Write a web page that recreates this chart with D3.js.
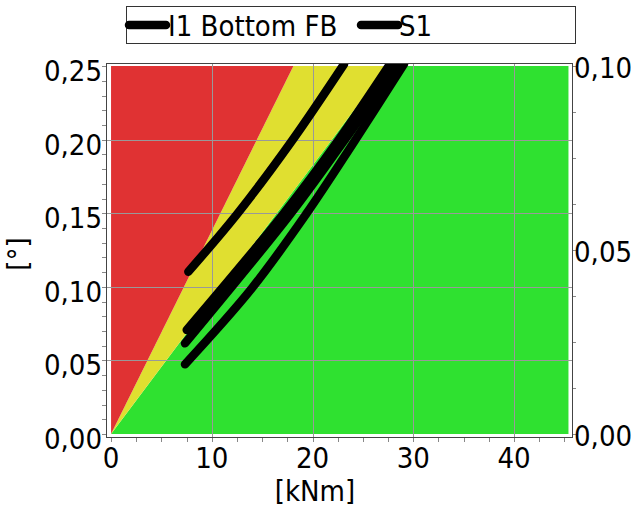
<!DOCTYPE html>
<html>
<head>
<meta charset="utf-8">
<script src="https://cdn.jsdelivr.net/npm/d3@7"></script>
<style>
  html, body { margin: 0; padding: 0; background: #fff; }
  svg { display: block; }
  text { font-family: 'DejaVu Sans Condensed', 'DejaVu Sans', sans-serif; font-stretch: condensed; fill: #000; }
</style>
</head>
<body>
<svg id="chart" width="635" height="513"></svg>
<script>
// Moment [kNm] vs rotation [°]
const xTicks = [0, 10, 20, 30, 40];
const yTicks = [0, 0.05, 0.10, 0.15, 0.20, 0.25];
const y2Ticks = [0, 0.05, 0.10];

// Classification zones (polygons in data units)
const zoneRed = [[0, 0], [0, 0.25], [18.1, 0.25]];
const zoneYellow = [[0, 0], [18.1, 0.25], [27.4, 0.25]];
const zoneGreen = [[0, 0], [27.4, 0.25], [45.4, 0.25], [45.4, 0]];

// Series branches: [moment, rotation]
const i1BottomFbUp = [[7.67, 0.1103], [12.49, 0.1493], [17.96, 0.1993], [23.13, 0.2514]];
const i1BottomFbDown = [[7.51, 0.0707], [17.07, 0.1493], [22.53, 0.1993], [27.69, 0.2514]];
const s1Up = [[7.34, 0.0616], [17.77, 0.1493], [23.13, 0.1993], [28.58, 0.2514]];
const s1Down = [[7.34, 0.0474], [13.97, 0.0990], [19.35, 0.1493], [23.92, 0.1964], [29.08, 0.2514]];

const seriesNames = ["I1 Bottom FB", "S1"];

const svg = d3.select("#chart");
const W = 635, H = 513;
svg.append("rect").attr("width", W).attr("height", H).attr("fill", "#fff");

const frame = { left: 106, right: 573, top: 63, bottom: 438 };
const x = d3.scaleLinear().domain([-0.5, 45.85]).range([frame.left, frame.right]);
const y = d3.scaleLinear().domain([-0.0027, 0.2521]).range([frame.bottom, frame.top]);
// Secondary axis shares the same vertical extent: 0..0.10 on the right equals 0..0.25 on the left
const y2 = d3.scaleLinear().domain([0, 0.10]).range([y(0), y(0.25)]);

const locale = d3.formatLocale({ decimal: ",", thousands: ".", grouping: [3], currency: ["", ""] });
const fmt2 = locale.format(".2f");

svg.append("clipPath").attr("id", "plotClip")
  .append("rect")
  .attr("x", frame.left).attr("y", frame.top)
  .attr("width", frame.right - frame.left).attr("height", frame.bottom - frame.top);

const plot = svg.append("g").attr("clip-path", "url(#plotClip)");

// Zones
const poly = pts => "M" + pts.map(p => x(p[0]) + "," + y(p[1])).join("L") + "Z";
plot.append("path").attr("d", poly(zoneGreen)).attr("fill", "#2fe130");
plot.append("path").attr("d", poly(zoneYellow)).attr("fill", "#e0df30");
plot.append("path").attr("d", poly(zoneRed)).attr("fill", "#e03233");

// Grid
const grid = plot.append("g").attr("stroke", "#999").attr("stroke-width", 1).attr("shape-rendering", "crispEdges");
xTicks.filter(v => v > 0).forEach(v => {
  grid.append("line").attr("x1", Math.round(x(v)) + 0.5).attr("x2", Math.round(x(v)) + 0.5)
    .attr("y1", frame.top).attr("y2", frame.bottom);
});
yTicks.filter(v => v > 0 && v < 0.25).forEach(v => {
  grid.append("line").attr("y1", Math.round(y(v)) + 0.5).attr("y2", Math.round(y(v)) + 0.5)
    .attr("x1", frame.left).attr("x2", frame.right);
});

// Series
const line = d3.line().x(d => x(d[0])).y(d => y(d[1])).curve(d3.curveCatmullRom.alpha(0.5));
[i1BottomFbUp, i1BottomFbDown, s1Up, s1Down].forEach(branch => {
  plot.append("path").attr("d", line(branch))
    .attr("fill", "none").attr("stroke", "#000").attr("stroke-width", 8.5)
    .attr("stroke-linecap", "round").attr("stroke-linejoin", "round");
});

// Frame
svg.append("rect")
  .attr("x", frame.left + 0.5).attr("y", frame.top + 0.5)
  .attr("width", frame.right - frame.left - 1).attr("height", frame.bottom - frame.top - 1)
  .attr("fill", "none").attr("stroke", "#444").attr("stroke-width", 1);

// Ticks (major and minor)
const ticks = svg.append("g").attr("stroke", "#888").attr("stroke-width", 1).attr("shape-rendering", "crispEdges");
d3.range(0, 45.01, 2.5).forEach(v => {
  const px = Math.round(x(v)) + 0.5;
  ticks.append("line").attr("x1", px).attr("x2", px).attr("y1", frame.bottom).attr("y2", frame.bottom + 4);
});
d3.range(0, 0.2501, 0.01).forEach(v => {
  const py = Math.round(y(v)) + 0.5;
  ticks.append("line").attr("x1", frame.left - 4).attr("x2", frame.left).attr("y1", py).attr("y2", py);
});
d3.range(0, 0.1001, 0.0125).forEach(v => {
  const py = Math.round(y2(v)) + 0.5;
  ticks.append("line").attr("x1", frame.right).attr("x2", frame.right + 3).attr("y1", py).attr("y2", py);
});

// Tick labels
const fs = 29;
svg.append("g").selectAll("text").data(xTicks).join("text")
  .attr("x", d => x(d)).attr("y", 468)
  .attr("text-anchor", "middle").attr("font-size", fs)
  .text(d => d);
svg.append("g").selectAll("text").data(yTicks).join("text")
  .attr("x", 102).attr("y", d => y(d) + 15)
  .attr("text-anchor", "end").attr("font-size", fs)
  .text(d => fmt2(d));
svg.append("g").selectAll("text").data(y2Ticks).join("text")
  .attr("x", 574).attr("y", d => y2(d) + 12)
  .attr("text-anchor", "start").attr("font-size", fs)
  .text(d => fmt2(d));

// Axis titles
svg.append("text").attr("x", 315).attr("y", 501)
  .attr("text-anchor", "middle").attr("font-size", fs).text("[kNm]");
svg.append("text").attr("transform", "translate(28,254) rotate(-90)")
  .attr("text-anchor", "middle").attr("font-size", fs).text("[°]");

// Legend
const legend = svg.append("g");
legend.append("rect").attr("x", 126.5).attr("y", 6.5).attr("width", 449).attr("height", 37)
  .attr("fill", "#fff").attr("stroke", "#333").attr("stroke-width", 1);
const legendItems = [
  { name: seriesNames[0], x0: 129, x1: 166, tx: 168 },
  { name: seriesNames[1], x0: 361, x1: 398, tx: 399 }
];
legendItems.forEach(it => {
  legend.append("line").attr("x1", it.x0).attr("x2", it.x1).attr("y1", 25).attr("y2", 25)
    .attr("stroke", "#000").attr("stroke-width", 8.5).attr("stroke-linecap", "round");
  legend.append("text").attr("x", it.tx).attr("y", 36).attr("font-size", fs).text(it.name);
});
</script>
</body>
</html>
